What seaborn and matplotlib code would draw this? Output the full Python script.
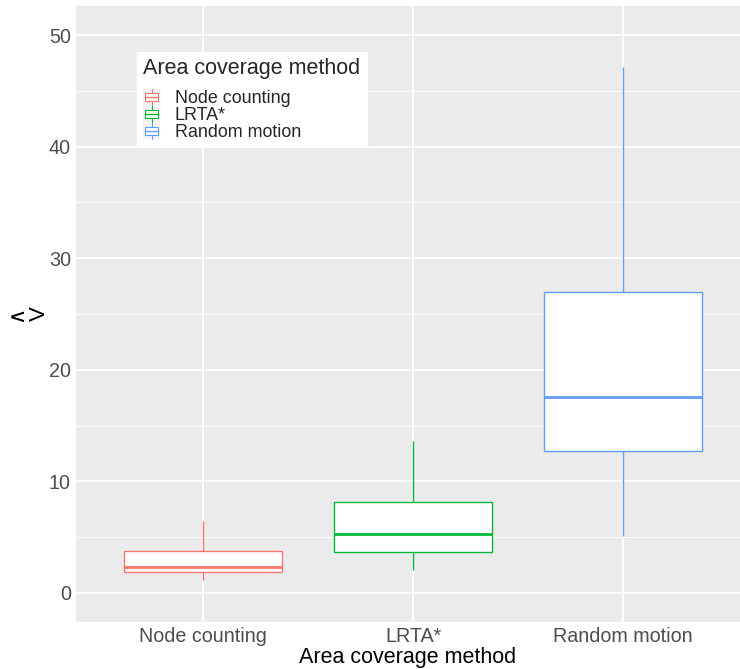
import numpy as np
import pandas as pd
import matplotlib
matplotlib.use("Agg")
import matplotlib.pyplot as plt
from matplotlib.patches import Patch, Rectangle
from matplotlib.lines import Line2D
from matplotlib.legend_handler import HandlerBase
from matplotlib.ticker import MultipleLocator
import seaborn as sns

methods = ["Node counting", "LRTA*", "Random motion"]
# five-number summaries: lower whisker, Q1, median, Q3, upper whisker
node_counting = [1.16, 1.91, 2.36, 3.79, 6.47]
lrta = [2.06, 3.67, 5.25, 8.17, 13.6]
random_motion = [5.1, 12.7, 17.6, 27.0, 47.1]
colors = ["#F8766D", "#00BA38", "#619CFF"]
y_ticks = [0, 10, 20, 30, 40, 50]

df = pd.DataFrame({
    "method": np.repeat(methods, 5),
    "V": node_counting + lrta + random_motion,
})

sns.set_theme(style="darkgrid")
plt.rcParams["font.family"] = ["Liberation Sans", "DejaVu Sans"]

fig = plt.figure(figsize=(7.4, 6.69), dpi=100)
ax = fig.add_axes([76 / 740, 1 - 622 / 669, 664 / 740, 616 / 669])
ax.set_facecolor("#EBEBEB")

sns.boxplot(data=df, x="method", y="V", hue="method", order=methods,
            hue_order=methods, palette=colors, width=0.75, whis=np.inf,
            fill=True, linewidth=1.0, legend=False, ax=ax, showcaps=False,
            medianprops={"linewidth": 2.0})
for cont, c in zip(ax.containers, colors):
    for b in cont.boxes:
        b.set_facecolor("white")
        b.set_edgecolor(c)
    for l in list(cont.whiskers) + list(cont.medians) + list(cont.caps):
        l.set_color(c)

ax.set_xlim(-0.605, 2.557)
ax.set_ylim(-2.6, 52.6)
ax.yaxis.set_minor_locator(MultipleLocator(5))
ax.set_yticks(y_ticks)
ax.grid(True, which="major", color="white", linewidth=1.3)
ax.grid(True, which="minor", axis="y", color="white", linewidth=0.65)
ax.set_axisbelow(True)
for s in ax.spines.values():
    s.set_visible(False)
ax.tick_params(axis="both", which="major", length=2.7, width=0.8, color="#333333",
               labelsize=14.2, labelcolor="#4D4D4D", pad=1.0)
ax.tick_params(axis="both", which="minor", length=0)
ax.set_xlabel("Area coverage method", fontsize=15.5, color="black", va="top")
ax.xaxis.set_label_coords(0.5, -0.041)

# y label: V with a hat, rotated
ax.set_ylabel("\u2227\nV", fontsize=16, color="black", va="center",
              linespacing=1.1)
ax.yaxis.set_label_coords((28 - 76) / 664, (622 - 314) / 616)


class BoxHandler(HandlerBase):
    def create_artists(self, legend, orig_handle, xdescent, ydescent, width,
                       height, fontsize, trans):
        c = orig_handle.get_edgecolor()
        x0, y0 = -xdescent, -ydescent
        bg = Rectangle((x0, y0), width, height, facecolor="#F2F2F2",
                       edgecolor="none", transform=trans)
        box = Rectangle((x0 + 0.12 * width, y0 + 0.25 * height), 0.76 * width,
                        0.5 * height, facecolor="white", edgecolor=c,
                        linewidth=0.8, transform=trans)
        med = Line2D([x0 + 0.12 * width, x0 + 0.88 * width],
                     [y0 + 0.5 * height] * 2, color=c, linewidth=1.0,
                     transform=trans)
        w1 = Line2D([x0 + 0.5 * width] * 2, [y0, y0 + 0.25 * height], color=c,
                    linewidth=0.8, transform=trans)
        w2 = Line2D([x0 + 0.5 * width] * 2, [y0 + 0.75 * height, y0 + height],
                    color=c, linewidth=0.8, transform=trans)
        return [bg, box, med, w1, w2]


handles = [Patch(facecolor="white", edgecolor=c, label=m)
           for m, c in zip(methods, colors)]
leg = ax.legend(handles=handles, title="Area coverage method", loc="upper left",
                bbox_to_anchor=(0.092, 0.925), fontsize=12.9, title_fontsize=15.5,
                frameon=True, facecolor="white", edgecolor="white", framealpha=1,
                fancybox=False, handlelength=0.95, handleheight=0.95,
                handletextpad=0.8, labelspacing=-0.05, borderpad=0.35,
                borderaxespad=0, handler_map={Patch: BoxHandler()})
leg._legend_box.align = "left"
leg._legend_box.sep = 7

fig.savefig("out.png", dpi=100)
